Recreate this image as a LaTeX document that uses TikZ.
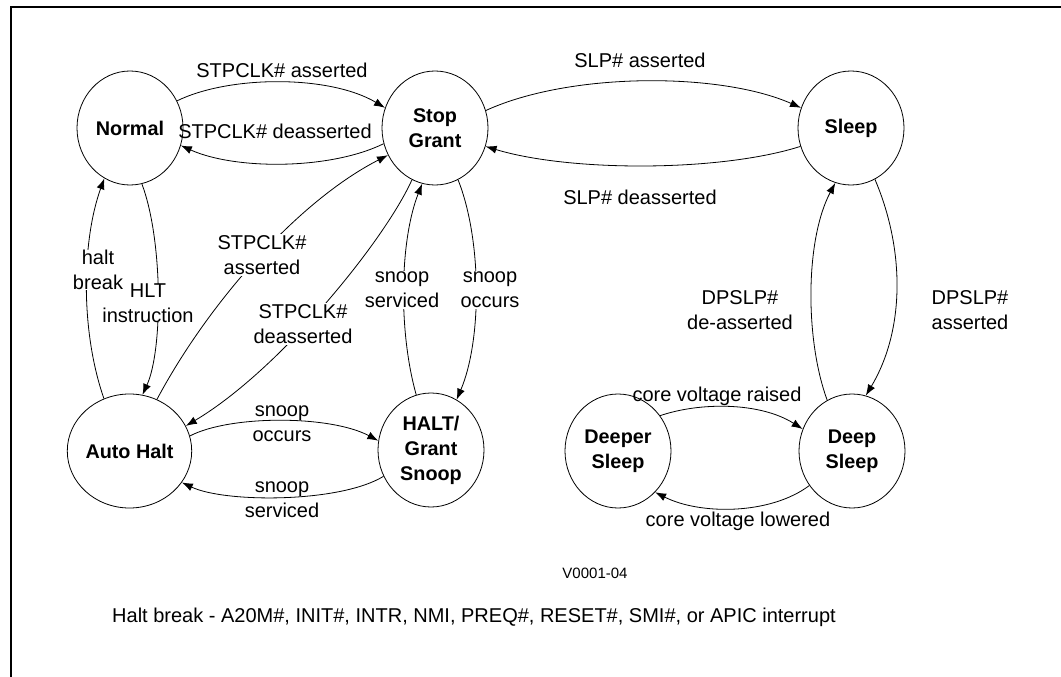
\documentclass[tikz,border=0pt]{standalone}
\usepackage{fontspec}
\setmainfont{Liberation Sans}
\usetikzlibrary{shapes.geometric,arrows.meta}
\begin{document}
\begin{tikzpicture}[x=1pt,y=-1pt,
  state/.style={draw,ellipse,line width=0.8pt,minimum width=106pt,minimum height=114pt,inner sep=0pt,align=center,font=\fontsize{19.8}{25}\selectfont\bfseries},
  lbl/.style={align=center,font=\fontsize{20}{25}\selectfont,inner sep=1pt},
  lblw/.style={lbl,fill=white},
  arr/.style={line width=0.8pt,-{Latex[length=11pt,width=8pt]}}]
\useasboundingbox (0,0) rectangle (1061,677);
\draw[line width=2pt] (11,677) -- (11,7.5) -- (1061,7.5);
% states
\node[state] (normal) at (130,128) {Normal};
\node[state] (stop) at (435,128) {Stop\\Grant};
\node[state] (sleep) at (851,128) {Sleep};
\node[state] (auto) at (129.5,451) {Auto Halt};
\node[state] (halt) at (431,450) {HALT/\\Grant\\Snoop};
\node[state] (deeper) at (618,451) {Deeper\\Sleep};
\node[state] (deep) at (852,451) {Deep\\Sleep};
% labels
\node[lbl] (l1) at (282,70) {STPCLK\# asserted};
\node[lbl] (l2) at (275,131) {STPCLK\# deasserted};
\node[lbl] (l3) at (640,60) {SLP\# asserted};
\node[lbl] (l4) at (640,197) {SLP\# deasserted};
\node[lbl] (l15) at (282,424) {snoop\\occurs};
\node[lbl] (l16) at (282,500) {snoop\\serviced};
\node[lbl] (l7) at (717,396) {core voltage raised};
\node[lbl] (l8) at (738,521) {core voltage lowered};
% edges
\draw[arr] (normal.30) .. controls (230,75) and (330,75) .. (stop.158);
\draw[arr] (stop.197) .. controls (330,170) and (235,170) .. (normal.341);
\draw[arr] (stop.19) .. controls (570,72) and (720,72) .. (sleep.158);
\draw[arr] (sleep.200) .. controls (720,172) and (570,172) .. (stop.340);
\draw[arr] (sleep.295) .. controls (905,250) and (905,330) .. (deep.76);
\draw[arr] (deep.116) .. controls (805,340) and (805,240) .. (sleep.254);
\draw[arr] (deeper.40) .. controls (700,402) and (760,402) .. (deep.156);
\draw[arr] (deep.219) .. controls (770,515) and (700,515) .. (deeper.312);
\draw[arr] (normal.282) .. controls (163,240) and (163,350) .. (auto.77);
\draw[arr] (auto.116) .. controls (80,330) and (82,240) .. (normal.243);
\draw[arr] (auto.62) .. controls (210,300) and (300,200) .. (stop.210);
\draw[arr] (stop.246) .. controls (385,240) and (280,370) .. (auto.24);
\draw[arr] (halt.105) .. controls (398,330) and (400,240) .. (stop.257);
\draw[arr] (stop.294) .. controls (482,240) and (482,340) .. (halt.63);
\draw[arr] (auto.14) .. controls (230,415) and (330,415) .. (halt.170);
\draw[arr] (halt.209) .. controls (340,503) and (225,503) .. (auto.329);
% labels that interrupt lines
\node[lblw,inner sep=0pt] (l9) at (148,303) {HLT\\instruction};
\node[lblw,inner sep=0pt] (l10) at (98,270) {halt\\break};
\node[lblw] (l11) at (262,255) {STPCLK\#\\asserted};
\node[lblw] (l12) at (303,324) {STPCLK\#\\deasserted};
\node[lblw] (l13) at (402,290) {snoop\\serviced};
\node[lblw] (l14) at (490,290) {snoop\\occurs};
\node[lblw] (l6) at (740,310) {DPSLP\#\\de-asserted};
\node[lblw] (l5) at (970,310) {DPSLP\#\\asserted};
% footnotes
\node[font=\fontsize{15}{18}\selectfont] (ver) at (595,573) {V0001-04};
\node[anchor=west,font=\fontsize{20}{25}\selectfont,inner sep=0pt] (note) at (112,617) {Halt break - A20M\#, INIT\#, INTR, NMI, PREQ\#, RESET\#, SMI\#, or APIC interrupt};
\end{tikzpicture}
\end{document}
